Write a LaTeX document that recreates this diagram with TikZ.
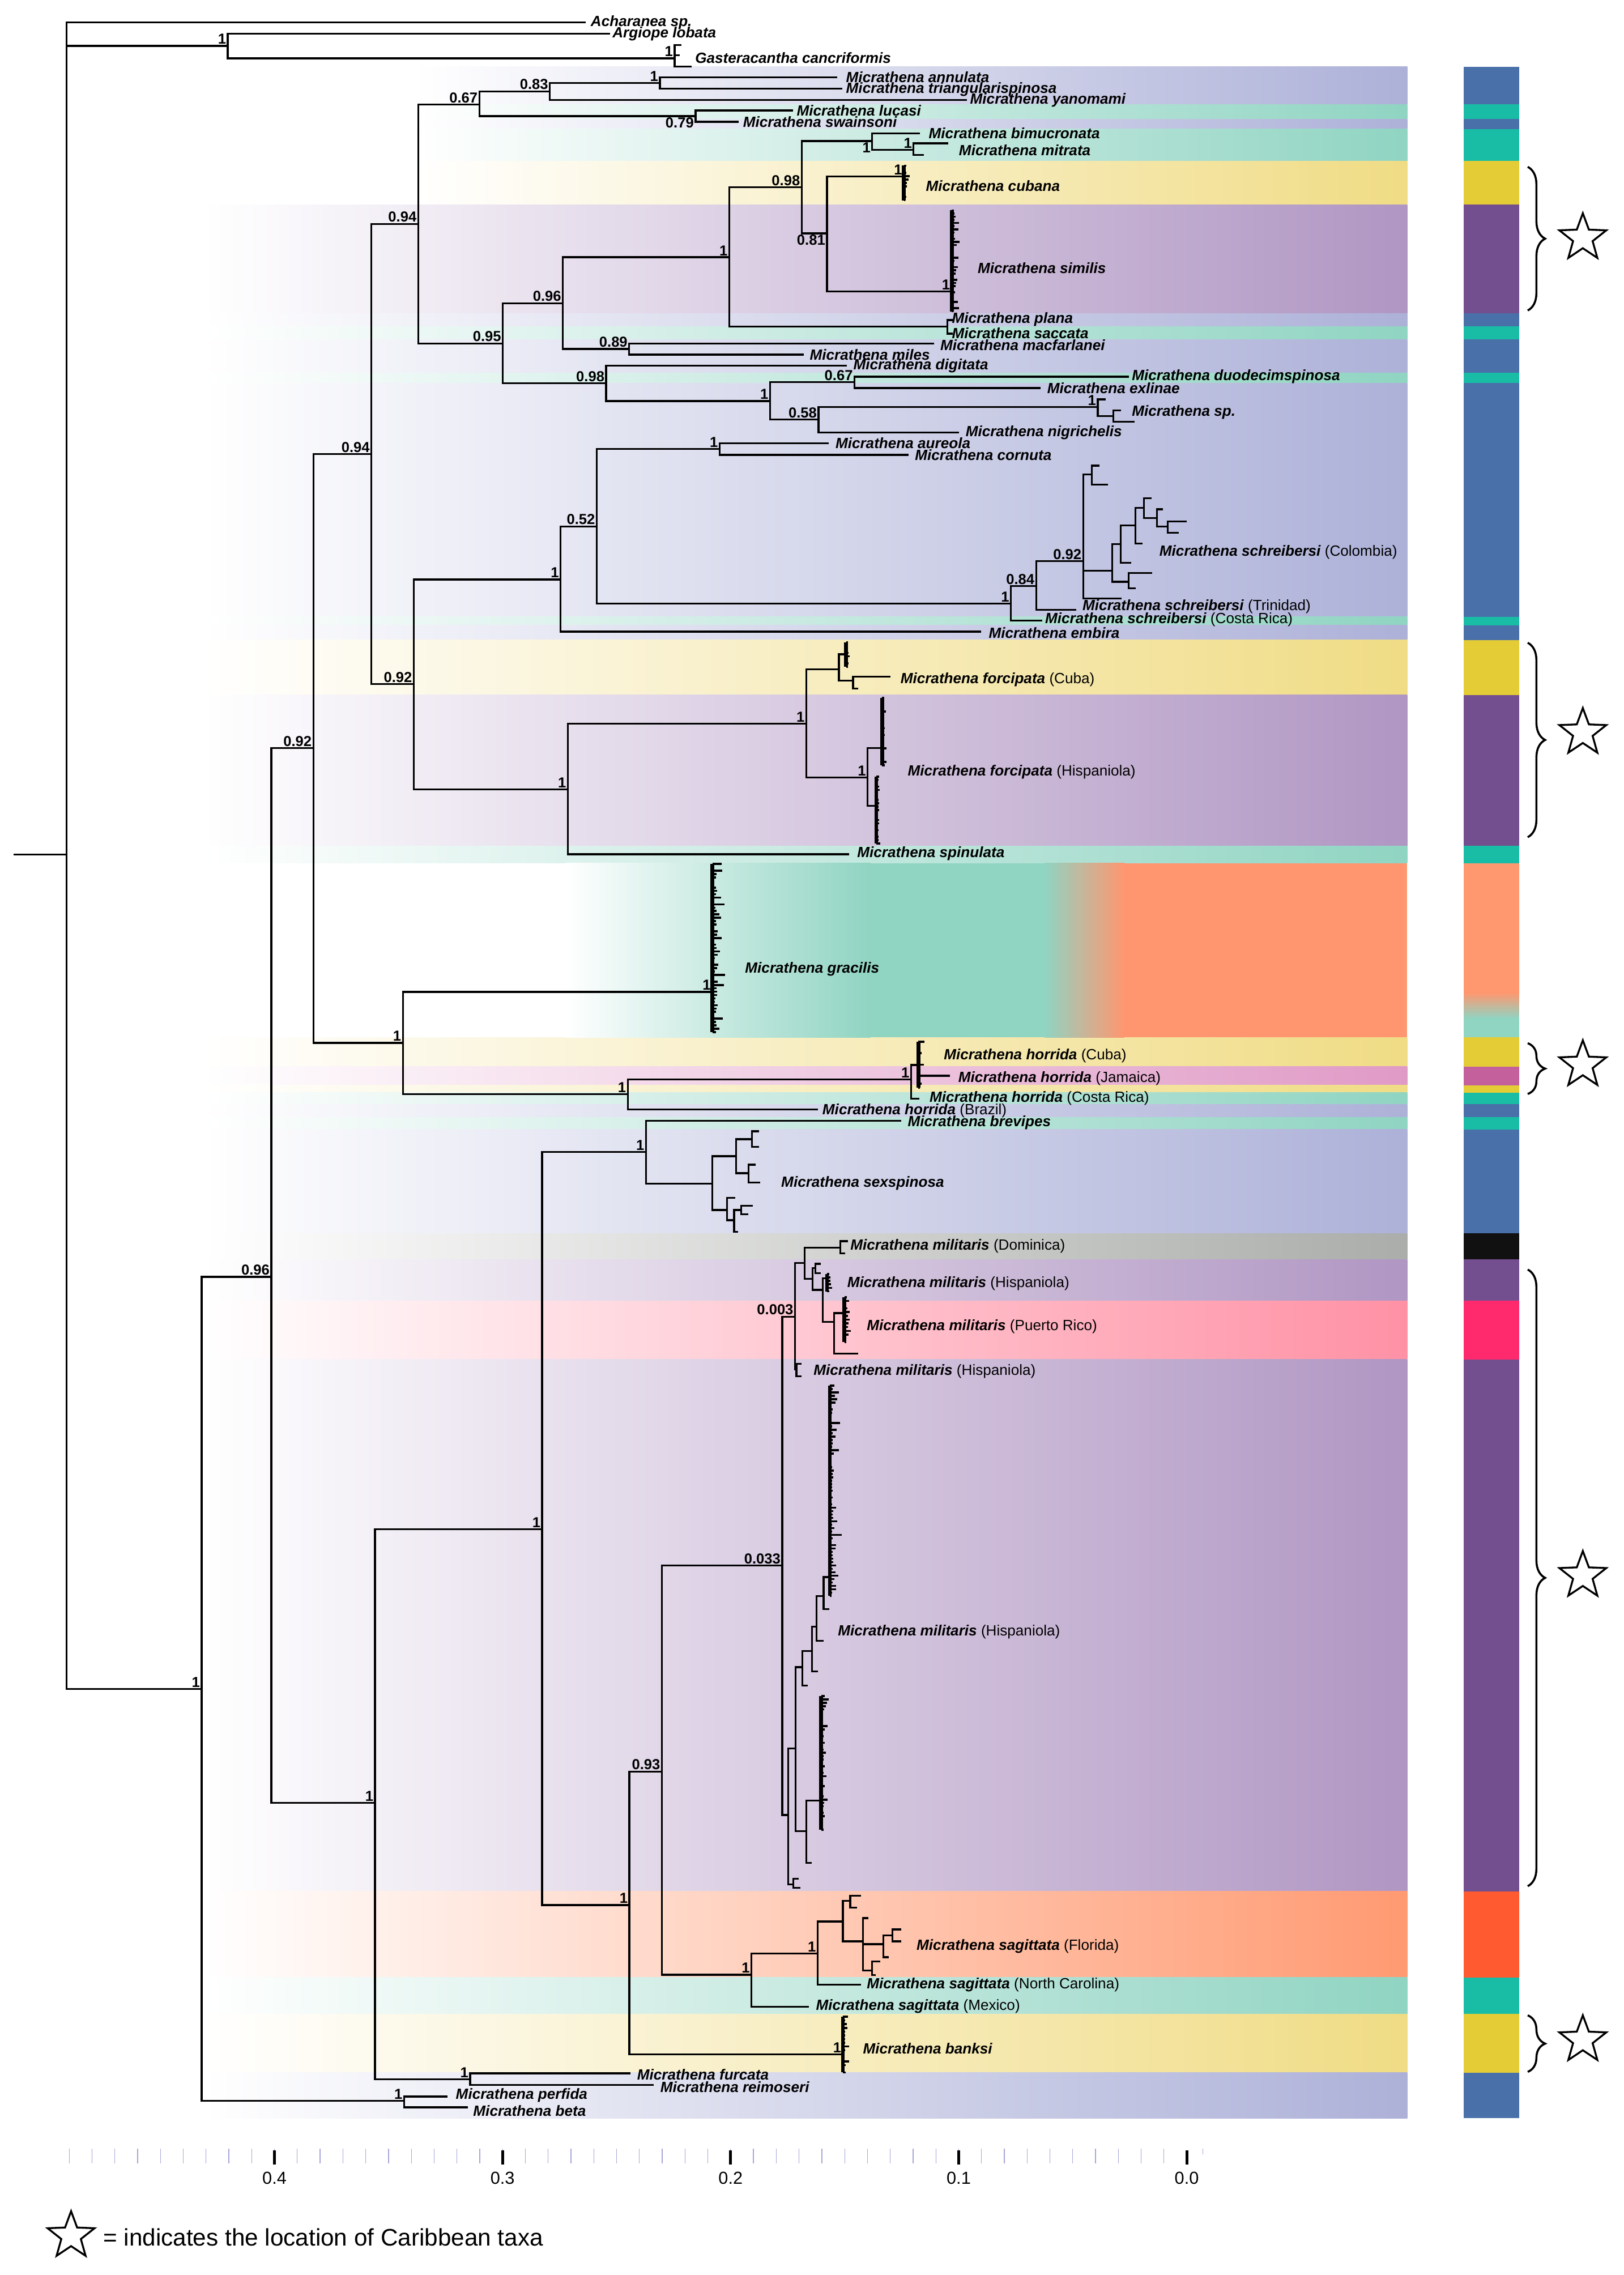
\documentclass[tikz,border=0pt]{standalone}
\usepackage{fontspec}
\setmainfont{Liberation Sans}
\usetikzlibrary{shapes.geometric,decorations.pathreplacing}

\definecolor{bandblue}{HTML}{ADB1D8}
\definecolor{bandteal}{HTML}{90D4C2}
\definecolor{bandyellow}{HTML}{F0DC85}
\definecolor{bandpurple}{HTML}{B096C3}
\definecolor{bandsalmon}{HTML}{FF9670}
\definecolor{bandmagenta}{HTML}{E09AC6}
\definecolor{bandgrey}{HTML}{AAADA9}
\definecolor{bandpink}{HTML}{FF91A5}
\definecolor{bandorange}{HTML}{FF9A72}
\definecolor{barblue}{HTML}{4A70A9}
\definecolor{barteal}{HTML}{19BDA5}
\definecolor{baryellow}{HTML}{E3CC36}
\definecolor{barpurple}{HTML}{744F8F}
\definecolor{barsalmon}{HTML}{FF976F}
\definecolor{barmagenta}{HTML}{C4609C}
\definecolor{barblack}{HTML}{111111}
\definecolor{barpink}{HTML}{FF2A6E}
\definecolor{barorange}{HTML}{FF5A30}

\newcommand{\tx}[1]{{\bfseries\itshape #1}}
\newcommand{\comb}[5]{%
  \draw[combline] (#1,#2) -- (#1,#3);
  \foreach \k in {0,...,#4}{%
    \pgfmathsetmacro{\cy}{#2+(#3-#2)*\k/#4}%
    \pgfmathsetmacro{\cl}{1+#5*rnd*rnd}%
    \draw[twig] (#1,\cy) -- ++(\cl,0);
  }%
}

\begin{document}
\begin{tikzpicture}[x=1pt,y=-1pt,
  branch/.style={line width=1.3pt,line cap=rect},
  combline/.style={line width=2.6pt},
  twig/.style={line width=1.4pt},
  taxon/.style={anchor=west,inner sep=0pt,font=\fontsize{10.2}{12}\selectfont},
  supp/.style={anchor=south east,inner sep=1pt,font=\fontsize{10}{12}\selectfont\bfseries},
  suppbelow/.style={anchor=north east,inner sep=1pt,font=\fontsize{10}{12}\selectfont\bfseries},
  cstar/.style={star,star points=5,star point ratio=2.4,draw,line width=1.3pt,minimum size=34pt,inner sep=0pt},
  cbrace/.style={decorate,decoration={brace,amplitude=12pt},line width=1.4pt},
  minortick/.style={draw=blue!40!gray!50,line width=0.5pt},
  majortick/.style={line width=2pt},
  axlabel/.style={font=\fontsize{12}{14}\selectfont}]
\useasboundingbox (0,0) rectangle (1119,1568);
\fill[white] (0,0) rectangle (1119,1568);

% background bands
\foreach \ya/\yb/\bc/\xl in {46/72/bandblue/285,72/82/bandteal/285,82/89/bandblue/285,89/111/bandteal/285,
  111/141/bandyellow/285,141/216/bandpurple/140,216/225/bandblue/140,225/234/bandteal/140,234/257/bandblue/140,
  257/264/bandteal/140,264/425/bandblue/140,425/431/bandteal/140,431/441/bandblue/140,441/479/bandyellow/140,
  479/583/bandpurple/140,583/595/bandteal/140,715/735/bandyellow/140,735/748/bandmagenta/140,748/753/bandyellow/140,
  753/761/bandteal/140,761/770/bandblue/140,770/778.5/bandteal/140,778.5/850/bandblue/140,850/868/bandgrey/140,
  868/896.5/bandpurple/140,896.5/937/bandpink/140,937/1303.5/bandpurple/140,1303.5/1363/bandorange/140,
  1363/1388/bandteal/140,1388/1428.5/bandyellow/140,1428.5/1460/bandblue/140}
  \shade[left color=white,right color=\bc] (\xl,\ya) rectangle (970,\yb);
\shade[left color=white,right color=bandteal] (390,595) rectangle (600,715);
\fill[bandteal] (600,595) rectangle (720,715);
\shade[left color=bandteal,right color=bandsalmon] (720,595) rectangle (775,715);
\fill[bandsalmon] (775,595) rectangle (970,715);

% colour bar
\foreach \ya/\yb/\bc in {46/72/barblue,72/82/barteal,82/89/barblue,89/111/barteal,111/141/baryellow,
  141/216/barpurple,216/225/barblue,225/234/barteal,234/257/barblue,257/264/barteal,264/425/barblue,
  425/431/barteal,431/441/barblue,441/479/baryellow,479/583/barpurple,583/595/barteal,595/684/barsalmon,
  702/715/bandteal,715/735/baryellow,735/748/barmagenta,748/753/baryellow,753/761/barteal,761/770/barblue,
  770/778.5/barteal,778.5/850/barblue,850/868/barblack,868/896.5/barpurple,896.5/937/barpink,
  937/1303.5/barpurple,1303.5/1363/barorange,1363/1388/barteal,1388/1428.5/baryellow,1428.5/1460/barblue}
  \fill[\bc] (1009,\ya) rectangle (1047,\yb);
\shade[top color=barsalmon,bottom color=bandteal] (1009,684) rectangle (1047,702);

% tree vertices
\foreach \n/\x/\y in {rootstub/10/589,root/46/589,achar/403/15.4,nout/157/31.6,argio/420/23.2,
  ngast/465/40.2,gas1/469/31,gas2/468/38,gas3/476/46,
  n139/139/1164,n187/187/880,n216/216/515.6,n256/256/313,n288/288.3/154.3,n330/330.4/72,n379/379/63,
  n455/454.8/57.3,annul/576.5/53.4,trian/580/61.2,yanom/666/68.8,n479/479.4/80,lucas/546/76.1,swain/508.5/83.9,
  n347/346.6/236.7,n388/388/209,n503/502.7/177.3,n553/552.6/129,n601/601.2/97.2,bimuc/633.6/92,
  n630/629.7/103.2,mitr1/653/98.8,mitr2/636/106.9,n570/570/160.8,ncub/623/121.5,nsim/656/200.8,
  nplana/653/225,plana/656/220.6,sacca/656/230,n434/433.7/240.5,macfa/643/236.9,miles/553.3/244.4,
  n418/417.8/264.1,digit/583.2/251.9,n531/530.8/276.4,n589/589/263.4,duode/777.5/259.6,exlin/716.7/267.4,
  n564/564.2/289.2,n757/756.6/280.6,msp1/761.5/275.3,n767/767.5/286.8,msp2/772/282.8,msp3/781.5/290.7,
  nigri/660.4/298,
  n285/285.2/471.4,n386/386.4/399.4,n411/411.3/362.8,n496/496/309.3,aureo/570.7/305.5,cornu/625.5/313.5,
  n697/696.8/415.9,n714/714.2/403.9,n747/746.6/386.7,col1/752.6/327,col1a/757/321,col1b/763/334,
  col2/766.6/393.4,col3/772.5/375,col3a/779/388,col4/782.5/362,col4a/787/374.7,col6/788.4/350,
  col6a/793/343.3,col7/797.4/357,col7a/801/351,col8/804.9/363,col8a/817.4/359.5,col8b/812/367.3,
  col5/778/401,col5a/793.4/395,col5b/782/405.4,col9/772.5/412.4,trini/741/420.3,crsch/717.7/427.8,
  embir/675.4/435.3,
  n391/391.4/544,nforc/555.8/498.7,ncuba/578.2/461.3,cubc/583.2/451,ncu2/588/469,cub1/613/466.5,
  cub2/591/474.6,nhisp/598/535.8,hisc1/608/515.6,hisc2/604/555.3,spinu/584.7/588.8,
  n277/277.7/718.8,ngrac/491/683.6,n433/432.7/754.1,nhorc/628/744.1,nhor2/633/734,horja/654/741.4,
  horcr/632.9/757.2,horbr/563.2/764.7,
  n259/258.5/1242.5,n374/373.7/1054,n445/445.3/794,brevi/620.6/772.4,nsex/491/815.7,nsx1/507.4/796.9,
  nsx3/518.4/785.1,sx3a/522.4/779.7,sx3b/522.4/790.5,nsx4/515.9/808.6,sx4a/520/802.7,sx4b/523.4/815.1,
  nsx2/501/834,sx2a/506/825.5,nsx5/506/841,nsx6/511/834,sx6a/518.4/831,sx6b/515/837,sx5a/508/849,
  n434b/433.8/1313,n456/456.2/1221,n539/539.2/1079,n548/548/907.5,n555/554.6/870.4,ndom/579.3/860,
  dom1/583.8/855.4,dom2/582/863.9,n560/560/881.5,nh1/562/874,h1a/565/871,h1b/565/877.6,n567/567/889,
  nh2/570/881,npr/575/911,nprc/582/905,pr1/591/933,nhb/549/944,hb1/552/940,hb2/552/948.5,
  nlow/543.4/1251,n548b/548.3/1205,nbt/546.7/1298.7,bt1/550/1295,bt2/551/1301,nu1/553/1149,
  nu1a/556/1161.7,nu2/559.6/1138,nu2a/563/1152,nu3/562.8/1121,nu3a/567/1131,nu4/567.7/1100,
  bigc/572/1087,nu4a/571/1109,nl1/555.7/1262,lowc/566/1241,nl1a/559/1284,
  nsag/518/1361,n564s/563.6/1346.5,nflo/581/1324.3,nfl1/586/1310,fl1a/592.7/1306.5,fl1b/590/1314.7,
  nfl2/594.7/1338,fl2a/598/1322,nfl3/609/1340,nfl5/615/1334,fl5a/620.6/1329.8,fl5b/620.6/1338,
  fl3a/612/1349,nfl4/601/1358,fl4a/606/1352,fl4b/603/1361.3,sagnc/592.7/1368,sagmx/557/1383,
  nbank/581/1416,nfurc/324/1433,furca/434/1429,reimo/450/1437,nperf/278.6/1448,perfi/307.7/1445,
  beta/322/1452.4}
  \coordinate (\n) at (\x,\y);

% branches
\draw[branch] (rootstub) -- (root);
\foreach \p/\q in {root/achar,root/nout,root/n139,nout/argio,nout/ngast,ngast/gas1,ngast/gas2,ngast/gas3,
  n139/n187,n139/nperf,n187/n216,n187/n259,n216/n256,n216/n277,n256/n288,n256/n285,n288/n330,n288/n347,
  n330/n379,n330/n479,n379/n455,n379/yanom,n455/annul,n455/trian,n479/lucas,n479/swain,n347/n388,n347/n418,
  n388/n503,n388/n434,n503/n553,n503/nplana,n553/n601,n553/n570,n601/bimuc,n601/n630,n630/mitr1,n630/mitr2,
  n570/ncub,n570/nsim,nplana/plana,nplana/sacca,n434/macfa,n434/miles,n418/digit,n418/n531,n531/n589,
  n531/n564,n589/duode,n589/exlin,n564/n757,n564/nigri,n757/msp1,n757/n767,n767/msp2,n767/msp3,
  n285/n386,n285/n391,n386/n411,n386/embir,n411/n496,n411/n697,n496/aureo,n496/cornu,n697/n714,n697/crsch,
  n714/n747,n714/trini,n747/col1,n747/col2,n747/col9,col1/col1a,col1/col1b,col2/col3,col2/col5,col3/col4,
  col3/col3a,col4/col6,col4/col4a,col6/col6a,col6/col7,col7/col7a,col7/col8,col8/col8a,col8/col8b,
  col5/col5a,col5/col5b,n391/nforc,n391/spinu,nforc/ncuba,nforc/nhisp,ncuba/cubc,ncuba/ncu2,ncu2/cub1,
  ncu2/cub2,nhisp/hisc1,nhisp/hisc2,n277/ngrac,n277/n433,n433/nhorc,n433/horbr,nhorc/nhor2,nhorc/horcr,
  nhor2/horja,n259/n374,n259/nfurc,n374/n445,n374/n434b,n445/brevi,n445/nsex,nsex/nsx1,nsex/nsx2,
  nsx1/nsx3,nsx1/nsx4,nsx3/sx3a,nsx3/sx3b,nsx4/sx4a,nsx4/sx4b,nsx2/sx2a,nsx2/nsx5,nsx5/nsx6,nsx5/sx5a,
  nsx6/sx6a,nsx6/sx6b,n434b/n456,n434b/nbank,n456/n539,n456/nsag,n539/n548,n539/nlow,n548/n555,n548/nhb,
  n555/ndom,n555/n560,ndom/dom1,ndom/dom2,n560/nh1,n560/n567,nh1/h1a,nh1/h1b,n567/nh2,n567/npr,npr/nprc,
  npr/pr1,nhb/hb1,nhb/hb2,nlow/n548b,nlow/nbt,nbt/bt1,nbt/bt2,n548b/nu1,n548b/nl1,nu1/nu2,nu1/nu1a,
  nu2/nu3,nu2/nu2a,nu3/nu4,nu3/nu3a,nu4/bigc,nu4/nu4a,nl1/lowc,nl1/nl1a,nsag/n564s,nsag/sagmx,
  n564s/nflo,n564s/sagnc,nflo/nfl1,nflo/nfl2,nfl1/fl1a,nfl1/fl1b,nfl2/fl2a,nfl2/nfl3,nfl2/nfl4,
  nfl3/nfl5,nfl3/fl3a,nfl5/fl5a,nfl5/fl5b,nfl4/fl4a,nfl4/fl4b,nfurc/furca,nfurc/reimo,nperf/perfi,nperf/beta}
  \draw[branch] (\p) |- (\q);

% collapsed clusters
\pgfmathsetseed{7}
\comb{623}{114.2}{138.1}{10}{5}
\comb{656}{145}{214.6}{32}{5}
\comb{583.2}{442.7}{459.6}{7}{4}
\comb{608}{481.1}{527.4}{20}{3}
\comb{604}{535.2}{581.4}{20}{3}
\comb{491}{595.5}{711.3}{50}{9}
\comb{633}{718}{749.6}{12}{4}
\comb{570}{878}{890}{5}{4}
\comb{582}{894}{925}{12}{5}
\comb{572}{955}{1100}{62}{8}
\comb{566}{1169}{1261}{40}{6}
\comb{581}{1390}{1428.4}{15}{4}

% support values
\foreach \n/\v in {nout/1,ngast/1,n139/1,n187/0.96,n216/0.92,n256/0.94,n288/0.94,n330/0.67,n379/0.83,
  n455/1,n347/0.95,n388/0.96,n503/1,n553/0.98,n630/1,ncub/1,nsim/1,n434/0.89,n418/0.98,n531/1,
  n589/0.67,n564/0.58,n757/1,n285/0.92,n386/1,n411/0.52,n496/1,n697/1,n714/0.84,n747/0.92,n391/1,
  nforc/1,nhisp/1,n277/1,ngrac/1,n433/1,nhorc/1,n259/1,n374/1,n445/1,n434b/1,n456/0.93,n539/0.033,
  n548/0.003,nsag/1,n564s/1,nbank/1,nfurc/1,nperf/1}
  \node[supp] (s\n) at (\n) {\v};
\foreach \n/\v in {n479/0.79,n570/0.81,n601/1}
  \node[suppbelow] (s\n) at (\n) {\v};

% taxa
\node[taxon] (lachar) at (407,15.4) {\tx{Acharanea sp.}};
\node[taxon] (largio) at (422,23.2) {\tx{Argiope lobata}};
\node[taxon] (lgast) at (479,39.7) {\tx{Gasteracantha cancriformis}};
\node[taxon] (lannul) at (583,53) {\tx{Micrathena annulata}};
\node[taxon] (ltrian) at (583,61.5) {\tx{Micrathena triangularispinosa}};
\node[taxon] (lyanom) at (668.5,69.2) {\tx{Micrathena yanomami}};
\node[taxon] (llucas) at (549,76.1) {\tx{Micrathena lucasi}};
\node[taxon] (lswain) at (512,84.2) {\tx{Micrathena swainsoni}};
\node[taxon] (lbimuc) at (640,92) {\tx{Micrathena bimucronata}};
\node[taxon] (lmitr) at (660.8,103.6) {\tx{Micrathena mitrata}};
\node[taxon] (lcuba) at (638,128) {\tx{Micrathena cubana}};
\node[taxon] (lsim) at (673.7,184.6) {\tx{Micrathena similis}};
\node[taxon] (lplana) at (656,220.3) {\tx{Micrathena plana}};
\node[taxon] (lsacca) at (656,229.5) {\tx{Micrathena saccata}};
\node[taxon] (lmacfa) at (648,237.8) {\tx{Micrathena macfarlanei}};
\node[taxon] (lmiles) at (558,244.4) {\tx{Micrathena miles}};
\node[taxon] (ldigit) at (588,252.2) {\tx{Micrathena digitata}};
\node[taxon] (lduode) at (780,259.6) {\tx{Micrathena duodecimspinosa}};
\node[taxon] (lexlin) at (721.7,267.4) {\tx{Micrathena exlinae}};
\node[taxon] (lmsp) at (780,284.3) {\tx{Micrathena sp.}};
\node[taxon] (lnigri) at (665.4,298) {\tx{Micrathena nigrichelis}};
\node[taxon] (laureo) at (575.7,305.5) {\tx{Micrathena aureola}};
\node[taxon] (lcornu) at (630.5,313.5) {\tx{Micrathena cornuta}};
\node[taxon] (lcolom) at (799,380.7) {\tx{Micrathena schreibersi} (Colombia)};
\node[taxon] (ltrini) at (746,418.1) {\tx{Micrathena schreibersi} (Trinidad)};
\node[taxon] (lcrsch) at (720.2,427) {\tx{Micrathena schreibersi} (Costa Rica)};
\node[taxon] (lembir) at (681.3,436.3) {\tx{Micrathena embira}};
\node[taxon] (lfcuba) at (620.5,468.4) {\tx{Micrathena forcipata} (Cuba)};
\node[taxon] (lfhisp) at (625.5,531.9) {\tx{Micrathena forcipata} (Hispaniola)};
\node[taxon] (lspinu) at (590.7,588.3) {\tx{Micrathena spinulata}};
\node[taxon] (lgrac) at (513.4,668.1) {\tx{Micrathena gracilis}};
\node[taxon] (lhcuba) at (650.4,727.7) {\tx{Micrathena horrida} (Cuba)};
\node[taxon] (lhjam) at (660.4,743.2) {\tx{Micrathena horrida} (Jamaica)};
\node[taxon] (lhcr) at (640.5,756.9) {\tx{Micrathena horrida} (Costa Rica)};
\node[taxon] (lhbr) at (566.7,765.4) {\tx{Micrathena horrida} (Brazil)};
\node[taxon] (lbrevi) at (625.5,773.9) {\tx{Micrathena brevipes}};
\node[taxon] (lsex) at (538.3,815.7) {\tx{Micrathena sexspinosa}};
\node[taxon] (ldom) at (586,859) {\tx{Micrathena militaris} (Dominica)};
\node[taxon] (lhisa) at (583.8,884.7) {\tx{Micrathena militaris} (Hispaniola)};
\node[taxon] (lpr) at (597.3,914.3) {\tx{Micrathena militaris} (Puerto Rico)};
\node[taxon] (lhisb) at (560.6,945) {\tx{Micrathena militaris} (Hispaniola)};
\node[taxon] (lhisc) at (577.4,1124.8) {\tx{Micrathena militaris} (Hispaniola)};
\node[taxon] (lflo) at (631.6,1341.4) {\tx{Micrathena sagittata} (Florida)};
\node[taxon] (lnc) at (597.3,1368) {\tx{Micrathena sagittata} (North Carolina)};
\node[taxon] (lmex) at (562.3,1383) {\tx{Micrathena sagittata} (Mexico)};
\node[taxon] (lbank) at (594.7,1412) {\tx{Micrathena banksi}};
\node[taxon] (lfurca) at (439,1430) {\tx{Micrathena furcata}};
\node[taxon] (lreimo) at (455,1438.5) {\tx{Micrathena reimoseri}};
\node[taxon] (lperfi) at (314,1444) {\tx{Micrathena perfida}};
\node[taxon] (lbeta) at (326,1455) {\tx{Micrathena beta}};

% caribbean braces and stars
\draw[cbrace] (1053,115) -- (1053,214);
\draw[cbrace] (1053,443) -- (1053,577);
\draw[cbrace] (1053,719) -- (1053,754);
\draw[cbrace] (1053,875) -- (1053,1300);
\draw[cbrace] (1053,1389) -- (1053,1428);
\node[cstar] (star1) at (1091,164) {};
\node[cstar] (star2) at (1091,505) {};
\node[cstar] (star3) at (1091,734) {};
\node[cstar] (star4) at (1091,1086) {};
\node[cstar] (star5) at (1091,1406) {};

% axis
\foreach \k in {1,...,49}
  \draw[minortick] ({818-15.72*\k},1481) -- ++(0,10);
\draw[minortick] (829,1481) -- ++(0,4);
\foreach \v/\k in {0.4/4,0.3/3,0.2/2,0.1/1,0.0/0}{
  \draw[majortick] ({818-157.2*\k},1482) -- ++(0,10);
  \node[axlabel] (ax\k) at ({818-157.2*\k},1501) {\v};
}

% legend
\node[cstar] (legstar) at (49,1541) {};
\node[anchor=west,inner sep=0pt,font=\fontsize{16.5}{18}\selectfont] (legtxt) at (71,1542) {= indicates the location of Caribbean taxa};
\end{tikzpicture}
\end{document}
